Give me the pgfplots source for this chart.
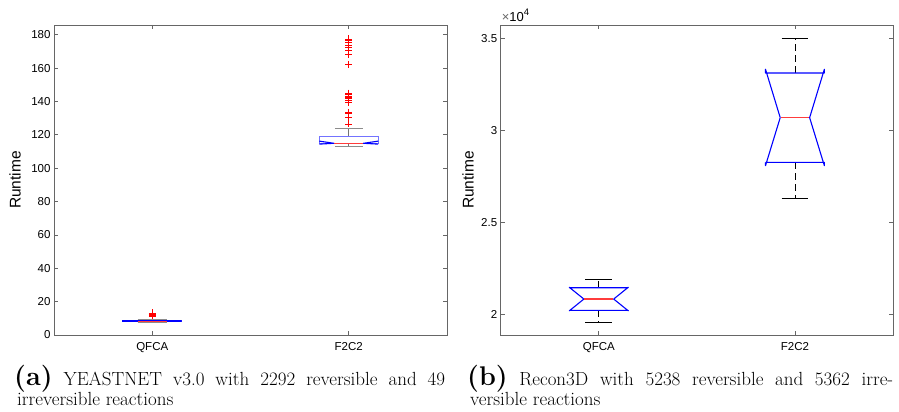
\documentclass[border=0pt]{standalone}
\usepackage{fontspec}
\usepackage{pgfplots}
\pgfplotsset{compat=1.18}
\newfontfamily\arial{Liberation Sans}
\definecolor{medred}{RGB}{255,60,60}
\pgfplotsset{
  bx/.style={blue, line width=1.1pt, line join=round, no marks},
  bxl/.style={blue!55, line width=0.8pt, no marks},
  wh/.style={black, line width=0.7pt, dash pattern=on 7pt off 4pt, no marks},
  cap/.style={black, line width=0.7pt, no marks},
  mdn/.style={draw=medred, line width=1.2pt, no marks},
  outl/.style={only marks, mark=+, red, mark size=3.5pt, mark options={line width=0.6pt}},
  mstyle/.style={
    scale only axis, anchor=south west,
    xmin=0.5, xmax=2.5, xtick={1,2}, xticklabels={QFCA,F2C2},
    tick align=inside, major tick length=4pt,
    axis line style={black!60, line width=0.6pt},
    every tick/.style={black!60, line width=0.6pt},
    tick label style={font=\arial\fontsize{11.5}{12}\selectfont},
    xticklabel style={yshift=-4pt},
    /pgf/number format/assume math mode=true,
    ylabel={Runtime},
    clip=false,
  }
}
\begin{document}
\begin{tikzpicture}[x=1pt,y=1pt]
\useasboundingbox (0,0) rectangle (899,412);
% ---------- left panel ----------
\begin{axis}[mstyle, at={(54pt,77pt)}, width=393pt, height=310pt,
  ymin=0, ymax=185.8, ytick={0,20,...,180},
  every axis y label/.style={at={(rel axis cs:-0.0992,0.5)}, rotate=90, anchor=center, font=\arial\fontsize{15.5}{16}\selectfont}]
% QFCA
\addplot[wh, black!55] coordinates {(1,8.6) (1,9.4)};
\addplot[wh, black!55] coordinates {(1,8.0) (1,7.8)};
\addplot[cap, black!45, line width=1.2pt] coordinates {(0.925,9.3) (1.075,9.3)};
\addplot[cap, black!45] coordinates {(0.925,7.8) (1.075,7.8)};
\addplot[bx] coordinates {(0.85,8.0) (0.85,8.6) (1.15,8.6) (1.15,8.0) (0.85,8.0)};
\addplot[mdn] coordinates {(0.925,8.3) (1.075,8.3)};
\addplot[outl] coordinates {(1,11.5) (1,12.0) (1,12.4) (1,13.2)};
% F2C2
\addplot[wh, black!55] coordinates {(2,119.3) (2,123.6)};
\addplot[wh, black!55] coordinates {(2,114.8) (2,112.9)};
\addplot[cap, black!45] coordinates {(1.93,123.6) (2.07,123.6)};
\addplot[cap, black!45] coordinates {(1.93,112.9) (2.07,112.9)};
\addplot[bxl] coordinates {(1.85,114.8) (1.85,119.3) (2.15,119.3) (2.15,114.8) (1.85,114.8)};
\addplot[bx] coordinates {(1.85,116.2) (1.925,114.9) (1.85,114.4)};
\addplot[bx] coordinates {(2.15,116.2) (2.075,114.9) (2.15,114.4)};
\addplot[mdn] coordinates {(1.925,114.9) (2.075,114.9)};
\addplot[outl] coordinates {
 (2,126.5) (2,130.4) (2,133.0) (2,133.5) (2,139.2) (2,140.8) (2,141.8)
 (2,142.5) (2,143.2) (2,144.0) (2,145.0)
 (2,162.2) (2,168.2) (2,170.4) (2,172.2) (2,173.8) (2,175.3) (2,176.5) (2,177.5)};
\end{axis}
% ---------- right panel ----------
\begin{axis}[mstyle, at={(500.7pt,77pt)}, width=392.3pt, height=310pt,
  ymin=18900, ymax=35720, ytick={20000,25000,30000,35000},
  scaled y ticks=base 10:-4,
  ytick scale label code/.code={\fontsize{13}{14}\arial\selectfont{\color{black!60}×}10\raisebox{0.45em}{\fontsize{9.5}{10}\selectfont #1}},
  every y tick scale label/.style={at={(rel axis cs:0,1)}, anchor=south west, inner sep=0pt, xshift=1pt, yshift=3pt},
  every axis y label/.style={at={(rel axis cs:-0.0834,0.5)}, rotate=90, anchor=center, font=\arial\fontsize{15.5}{16}\selectfont}]
% F2C2
\addplot[wh] coordinates {(2,33117) (2,34980)};
\addplot[wh] coordinates {(2,28269) (2,26314)};
\addplot[cap] coordinates {(1.932,34980) (2.068,34980)};
\addplot[cap] coordinates {(1.932,26314) (2.068,26314)};
\addplot[bx] coordinates {(1.85,28269) (1.85,28088) (1.925,30693) (1.85,33317) (1.85,33117)
  (2.15,33117) (2.15,33317) (2.075,30693) (2.15,28088) (2.15,28269) (1.85,28269)};
\addplot[mdn] coordinates {(1.927,30693) (2.073,30693)};
% QFCA
\addplot[wh] coordinates {(1,21466) (1,21936)};
\addplot[wh] coordinates {(1,20235) (1,19600)};
\addplot[cap] coordinates {(0.932,21936) (1.068,21936)};
\addplot[cap] coordinates {(0.932,19600) (1.068,19600)};
\addplot[bx] coordinates {(0.85,20235) (0.85,20215) (0.924,20850) (0.85,21486) (0.85,21466)
  (1.15,21466) (1.15,21486) (1.076,20850) (1.15,20215) (1.15,20235) (0.85,20235)};
\addplot[mdn] coordinates {(0.926,20850) (1.074,20850)};
\end{axis}
% ---------- captions ----------
\node[anchor=base west, inner sep=0pt] at (14,26) {\makebox[431pt][s]{\fontsize{27}{28}\selectfont\bfseries (a)\fontsize{19}{22}\selectfont\mdseries\ YEASTNET v3.0 with 2292 reversible and 49}};
\node[anchor=base west, inner sep=0pt] at (17,6) {\fontsize{19}{22}\selectfont irreversible reactions};
\node[anchor=base west, inner sep=0pt] at (467,26) {\makebox[426pt][s]{\fontsize{27}{28}\selectfont\bfseries (b)\fontsize{19}{22}\selectfont\mdseries\ Recon3D with 5238 reversible and 5362 irre-}};
\node[anchor=base west, inner sep=0pt] at (470,6) {\fontsize{19}{22}\selectfont versible reactions};
\end{tikzpicture}
\end{document}
